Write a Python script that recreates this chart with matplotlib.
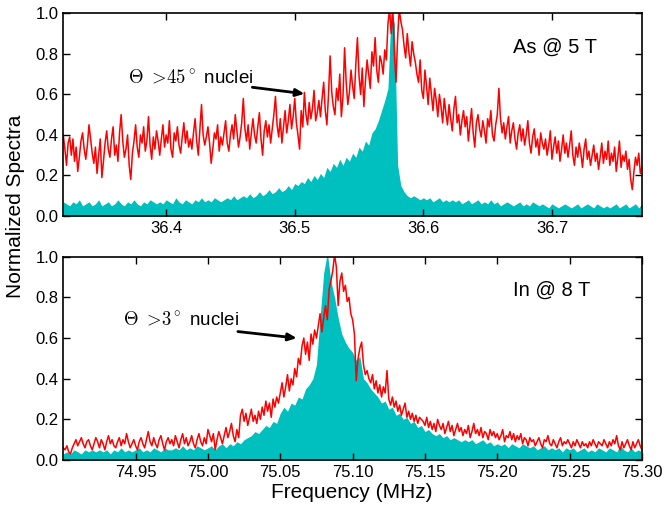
import numpy as np
import matplotlib
matplotlib.use("Agg")
import matplotlib.pyplot as plt
from matplotlib.ticker import FormatStrFormatter

plt.rcParams["font.family"] = ["Liberation Sans", "DejaVu Sans"]
plt.rcParams["mathtext.fontset"] = "cm"

# As @ 5 T, 36.32 - 36.77 MHz
as_range = (36.32, 36.77)
as_wide = [  # red: Theta > 45 deg nuclei, 1.25 kHz steps
    0.40, 0.33, 0.25, 0.36, 0.39, 0.30, 0.38, 0.27, 0.34, 0.22,
    0.29, 0.37, 0.41, 0.33, 0.28, 0.35, 0.45, 0.38, 0.31, 0.26,
    0.34, 0.21, 0.30, 0.38, 0.19, 0.27, 0.36, 0.42, 0.33, 0.29,
    0.38, 0.44, 0.30, 0.35, 0.27, 0.41, 0.50, 0.37, 0.29, 0.33,
    0.40, 0.25, 0.18, 0.31, 0.37, 0.45, 0.34, 0.29, 0.40, 0.36,
    0.44, 0.32, 0.37, 0.49, 0.35, 0.28, 0.39, 0.33, 0.42, 0.37,
    0.30, 0.38, 0.45, 0.34, 0.40, 0.36, 0.47, 0.33, 0.29, 0.41,
    0.37, 0.44, 0.35, 0.31, 0.39, 0.46, 0.36, 0.42, 0.34, 0.38,
    0.33, 0.41, 0.48, 0.37, 0.30, 0.43, 0.55, 0.40, 0.35, 0.39,
    0.44, 0.36, 0.26, 0.33, 0.41, 0.38, 0.45, 0.32, 0.39, 0.35,
    0.41, 0.47, 0.36, 0.32, 0.40, 0.45, 0.38, 0.50, 0.42, 0.34,
    0.39, 0.46, 0.58, 0.43, 0.37, 0.45, 0.33, 0.41, 0.48, 0.40,
    0.36, 0.44, 0.51, 0.38, 0.30, 0.42, 0.47, 0.39, 0.45, 0.36,
    0.43, 0.50, 0.59, 0.45, 0.39, 0.48, 0.36, 0.44, 0.52, 0.41,
    0.47, 0.55, 0.43, 0.49, 0.58, 0.46, 0.40, 0.33, 0.52, 0.44,
    0.61, 0.50, 0.45, 0.56, 0.48, 0.53, 0.62, 0.47, 0.51, 0.57,
    0.49, 0.58, 0.66, 0.52, 0.45, 0.60, 0.79, 0.61, 0.54, 0.50,
    0.63, 0.57, 0.70, 0.49, 0.59, 0.83, 0.66, 0.55, 0.61, 0.72,
    0.64, 0.58, 0.75, 0.88, 0.69, 0.60, 0.73, 0.54, 0.67, 0.77,
    0.70, 0.63, 0.81, 0.74, 0.88, 0.72, 0.66, 0.79, 0.76, 0.70,
    0.82, 0.77, 0.95, 1.02, 0.90, 1.02, 0.80, 0.66, 0.88, 1.02,
    0.96, 0.92, 0.84, 0.78, 0.90, 0.81, 0.74, 0.86, 0.80, 0.76,
    0.70, 0.66, 0.77, 0.62, 0.58, 0.72, 0.64, 0.55, 0.68, 0.60,
    0.52, 0.63, 0.57, 0.49, 0.60, 0.54, 0.46, 0.58, 0.51, 0.45,
    0.55, 0.48, 0.42, 0.53, 0.59, 0.46, 0.50, 0.40, 0.47, 0.52,
    0.44, 0.49, 0.37, 0.45, 0.53, 0.41, 0.34, 0.46, 0.50, 0.43,
    0.39, 0.47, 0.42, 0.36, 0.48, 0.44, 0.52, 0.40, 0.37, 0.45,
    0.50, 0.63, 0.48, 0.41, 0.46, 0.38, 0.44, 0.49, 0.36, 0.42,
    0.46, 0.38, 0.33, 0.41, 0.45, 0.37, 0.43, 0.35, 0.40, 0.47,
    0.36, 0.31, 0.39, 0.43, 0.34, 0.38, 0.30, 0.41, 0.36, 0.33,
    0.38, 0.30, 0.35, 0.42, 0.28, 0.34, 0.39, 0.31, 0.37, 0.27,
    0.33, 0.40, 0.31, 0.36, 0.29, 0.35, 0.42, 0.30, 0.25, 0.34,
    0.29, 0.36, 0.31, 0.24, 0.33, 0.38, 0.28, 0.32, 0.25, 0.30,
    0.35, 0.27, 0.31, 0.23, 0.29, 0.36, 0.26, 0.32, 0.28, 0.37,
    0.25, 0.31, 0.27, 0.34, 0.22, 0.29, 0.37, 0.24, 0.30, 0.27,
    0.32, 0.23, 0.28, 0.18, 0.13, 0.22, 0.29, 0.25, 0.31, 0.21,
    0.24,
]
as_full = [  # cyan: full spectrum, 2.5 kHz steps
    0.07, 0.06, 0.05, 0.07, 0.06, 0.08, 0.05, 0.06, 0.07, 0.05,
    0.06, 0.08, 0.05, 0.06, 0.07, 0.05, 0.06, 0.08, 0.06, 0.05,
    0.07, 0.06, 0.08, 0.06, 0.05, 0.07, 0.06, 0.08, 0.07, 0.06,
    0.07, 0.06, 0.08, 0.07, 0.06, 0.09, 0.07, 0.06, 0.08, 0.07,
    0.06, 0.08, 0.07, 0.09, 0.07, 0.08, 0.07, 0.09, 0.08, 0.07,
    0.08, 0.09, 0.08, 0.10, 0.08, 0.09, 0.10, 0.09, 0.11, 0.09,
    0.10, 0.12, 0.10, 0.11, 0.13, 0.11, 0.12, 0.14, 0.12, 0.13,
    0.15, 0.13, 0.16, 0.15, 0.17, 0.16, 0.19, 0.17, 0.20, 0.18,
    0.21, 0.19, 0.24, 0.22, 0.26, 0.24, 0.28, 0.25, 0.29, 0.27,
    0.31, 0.29, 0.34, 0.32, 0.37, 0.35, 0.41, 0.43, 0.47, 0.52,
    0.57, 0.63, 1.02, 0.95, 0.25, 0.15, 0.12, 0.10, 0.09, 0.10,
    0.09, 0.08, 0.09, 0.08, 0.09, 0.07, 0.08, 0.09, 0.07, 0.08,
    0.07, 0.08, 0.07, 0.08, 0.06, 0.07, 0.08, 0.06, 0.07, 0.08,
    0.06, 0.07, 0.06, 0.08, 0.06, 0.07, 0.05, 0.06, 0.07, 0.06,
    0.05, 0.06, 0.07, 0.05, 0.06, 0.05, 0.07, 0.06, 0.05, 0.06,
    0.05, 0.04, 0.06, 0.05, 0.04, 0.05, 0.06, 0.05, 0.04, 0.05,
    0.06, 0.04, 0.05, 0.06, 0.05, 0.04, 0.06, 0.05, 0.04, 0.05,
    0.04, 0.05, 0.06, 0.04, 0.05, 0.06, 0.04, 0.05, 0.06, 0.04,
    0.06,
]

# In @ 8 T, 74.90 - 75.30 MHz
in_range = (74.90, 75.30)
in_wide = [  # red: Theta > 3 deg nuclei, 1.25 kHz steps
    0.06, 0.05, 0.07, 0.04, 0.03, 0.06, 0.08, 0.10, 0.07, 0.09,
    0.11, 0.08, 0.06, 0.09, 0.10, 0.07, 0.05, 0.08, 0.11, 0.09,
    0.06, 0.10, 0.08, 0.05, 0.09, 0.12, 0.08, 0.10, 0.07, 0.06,
    0.09, 0.11, 0.07, 0.10, 0.08, 0.13, 0.09, 0.06, 0.08, 0.10,
    0.07, 0.05, 0.09, 0.11, 0.08, 0.06, 0.10, 0.14, 0.09, 0.07,
    0.11, 0.08, 0.06, 0.10, 0.12, 0.08, 0.05, 0.09, 0.11, 0.08,
    0.10, 0.07, 0.12, 0.09, 0.06, 0.10, 0.13, 0.08, 0.11, 0.07,
    0.09, 0.12, 0.08, 0.06, 0.10, 0.13, 0.09, 0.07, 0.11, 0.08,
    0.15, 0.12, 0.09, 0.13, 0.05, 0.10, 0.14, 0.11, 0.08, 0.12,
    0.16, 0.11, 0.14, 0.18, 0.12, 0.09, 0.15, 0.11, 0.22, 0.25,
    0.19, 0.23, 0.17, 0.21, 0.25, 0.19, 0.22, 0.18, 0.24, 0.20,
    0.26, 0.22, 0.29, 0.24, 0.28, 0.21, 0.30, 0.26, 0.31, 0.28,
    0.33, 0.38, 0.31, 0.36, 0.42, 0.34, 0.40, 0.37, 0.45, 0.41,
    0.50, 0.47, 0.56, 0.60, 0.52, 0.58, 0.49, 0.62, 0.57, 0.64,
    0.60, 0.66, 0.72, 0.63, 0.70, 0.76, 0.69, 0.84, 0.88, 0.93,
    1.01, 0.95, 0.76, 0.88, 0.92, 0.83, 0.86, 0.78, 0.80, 0.72,
    0.69, 0.62, 0.39, 0.50, 0.55, 0.58, 0.47, 0.42, 0.44, 0.40,
    0.38, 0.42, 0.35, 0.39, 0.33, 0.37, 0.31, 0.36, 0.33, 0.44,
    0.30, 0.27, 0.31, 0.26, 0.29, 0.24, 0.27, 0.22, 0.25, 0.28,
    0.21, 0.24, 0.20, 0.23, 0.19, 0.22, 0.18, 0.21, 0.20, 0.19,
    0.17, 0.21, 0.16, 0.19, 0.15, 0.18, 0.14, 0.20, 0.17, 0.15,
    0.18, 0.13, 0.16, 0.19, 0.14, 0.17, 0.12, 0.15, 0.18, 0.14,
    0.16, 0.12, 0.15, 0.13, 0.17, 0.11, 0.14, 0.18, 0.13, 0.15,
    0.12, 0.16, 0.11, 0.14, 0.13, 0.10, 0.15, 0.12, 0.14, 0.11,
    0.13, 0.10, 0.12, 0.15, 0.09, 0.12, 0.11, 0.14, 0.10, 0.13,
    0.09, 0.12, 0.10, 0.13, 0.08, 0.11, 0.10, 0.07, 0.11, 0.09,
    0.10, 0.07, 0.09, 0.11, 0.08, 0.06, 0.10, 0.09, 0.12, 0.08,
    0.07, 0.10, 0.08, 0.06, 0.09, 0.11, 0.07, 0.09, 0.08, 0.10,
    0.08, 0.06, 0.09, 0.07, 0.10, 0.08, 0.06, 0.09, 0.07, 0.08,
    0.06, 0.09, 0.07, 0.10, 0.08, 0.06, 0.09, 0.08, 0.07, 0.10,
    0.08, 0.06, 0.09, 0.07, 0.10, 0.08, 0.12, 0.07, 0.05, 0.09,
    0.06, 0.08, 0.10, 0.07, 0.05, 0.09, 0.06, 0.08, 0.10, 0.07,
    0.05,
]
in_full = [  # cyan: full spectrum, 2.5 kHz steps
    0.03, 0.04, 0.03, 0.05, 0.04, 0.03, 0.05, 0.04, 0.05, 0.04,
    0.05, 0.04, 0.05, 0.03, 0.05, 0.04, 0.06, 0.04, 0.05, 0.04,
    0.05, 0.06, 0.04, 0.05, 0.04, 0.06, 0.05, 0.04, 0.06, 0.05,
    0.05, 0.06, 0.05, 0.07, 0.05, 0.06, 0.05, 0.07, 0.06, 0.05,
    0.06, 0.07, 0.05, 0.07, 0.08, 0.06, 0.08, 0.07, 0.09, 0.08,
    0.10, 0.11, 0.12, 0.14, 0.13, 0.15, 0.17, 0.16, 0.19, 0.18,
    0.23, 0.26, 0.24, 0.28, 0.27, 0.31, 0.30, 0.35, 0.37, 0.40,
    0.47, 0.70, 0.92, 1.02, 0.88, 0.80, 0.70, 0.62, 0.58, 0.55,
    0.53, 0.49, 0.51, 0.40, 0.38, 0.35, 0.33, 0.31, 0.28, 0.29,
    0.25, 0.26, 0.22, 0.23, 0.20, 0.21, 0.18, 0.19, 0.16, 0.17,
    0.14, 0.15, 0.13, 0.12, 0.13, 0.11, 0.12, 0.10, 0.11, 0.10,
    0.09, 0.10, 0.09, 0.10, 0.08, 0.09, 0.10, 0.08, 0.09, 0.07,
    0.08, 0.07, 0.08, 0.06, 0.08, 0.07, 0.06, 0.08, 0.07, 0.06,
    0.07, 0.05, 0.06, 0.07, 0.05, 0.06, 0.05, 0.06, 0.04, 0.06,
    0.05, 0.06, 0.04, 0.05, 0.06, 0.04, 0.05, 0.04, 0.06, 0.05,
    0.04, 0.06, 0.05, 0.04, 0.07, 0.05, 0.04, 0.06, 0.04, 0.05,
    0.04,
]

as_xticks = [36.4, 36.5, 36.6, 36.7]
in_xticks = [74.95, 75.00, 75.05, 75.10, 75.15, 75.20, 75.25, 75.30]
yticks = [0.0, 0.2, 0.4, 0.6, 0.8, 1.0]


def spectrum_panel(ax, frange, wide, full, xticks, xfmt, label):
    fw = np.linspace(frange[0], frange[1], len(wide))
    ff = np.linspace(frange[0], frange[1], len(full))
    ax.fill_between(ff, 0, full, color="c", lw=0)
    ax.plot(fw, wide, color="red", lw=1.1)
    ax.set_xlim(frange)
    ax.set_ylim(0, 1)
    ax.set_xticks(xticks)
    ax.set_yticks(yticks)
    ax.xaxis.set_major_formatter(FormatStrFormatter(xfmt))
    ax.yaxis.set_major_formatter(FormatStrFormatter("%.1f"))
    ax.tick_params(direction="in", top=True, right=True, length=5,
                   width=1, labelsize=12)
    for s in ax.spines.values():
        s.set_linewidth(1.2)
    ax.text(0.777, 0.835, label, transform=ax.transAxes, fontsize=14.5,
            ha="left", va="center")


fig = plt.figure(figsize=(6.64, 5.08), dpi=100)
ax1 = fig.add_axes([0.0953, 0.5748, 0.8715, 0.399])
ax2 = fig.add_axes([0.0953, 0.0945, 0.8715, 0.400])

spectrum_panel(ax1, as_range, as_wide, as_full, as_xticks, "%.1f", "As @ 5 T")
spectrum_panel(ax2, in_range, in_wide, in_full, in_xticks, "%.2f", "In @ 8 T")

arrow = dict(arrowstyle="-|>,head_length=0.5,head_width=0.22", color="k",
             lw=2, shrinkA=0, shrinkB=0)
ax1.text(36.370, 0.685, r"$\Theta\ >\!45^\circ$ nuclei", fontsize=13.5,
         ha="left", va="center")
ax1.annotate("", xy=(36.5076, 0.603), xytext=(36.467, 0.635),
             arrowprops=arrow)
ax2.text(74.941, 0.69, r"$\Theta\ >\!3^\circ$ nuclei", fontsize=13.5,
         ha="left", va="center")
ax2.annotate("", xy=(75.0614, 0.600), xytext=(75.0207, 0.632),
             arrowprops=arrow)

fig.text(0.024, 0.594, "Normalized Spectra", rotation=90, fontsize=15,
         ha="center", va="center")
fig.text(0.53, 0.031, "Frequency (MHz)", fontsize=15, ha="center",
         va="center")

fig.savefig("out.png", dpi=100)
